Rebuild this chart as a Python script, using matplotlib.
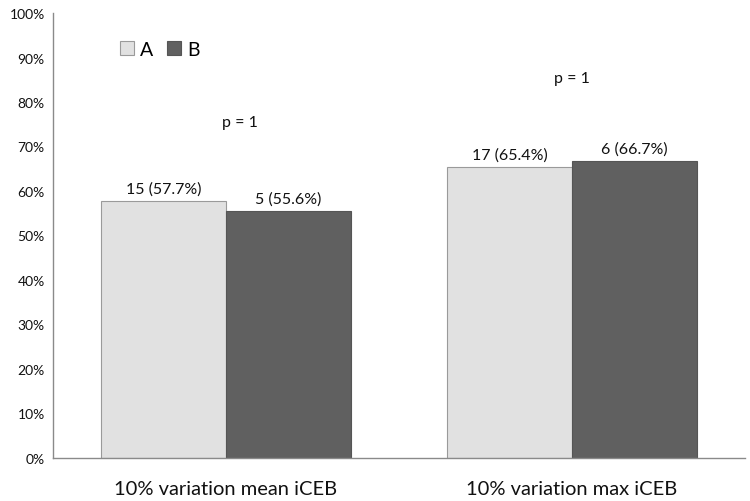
import matplotlib
matplotlib.use("Agg")
import matplotlib.pyplot as plt
import numpy as np

categories = ["10% variation mean iCEB", "10% variation max iCEB"]
series_names = ["A", "B"]
values_A = [57.7, 65.4]
values_B = [55.6, 66.7]
labels_A = ["15 (57.7%)", "17 (65.4%)"]
labels_B = ["5 (55.6%)", "6 (66.7%)"]
p_labels = ["p = 1", "p = 1"]
p_pos = [(0.04, 75.5), (1.0, 85.5)]
yticks = list(range(0, 101, 10))

plt.rcParams['font.family'] = ['Lato', 'DejaVu Sans']

fig = plt.figure(figsize=(7.5, 5.02), dpi=100)
ax = fig.add_axes([0.0707, 0.0857, 0.9226, 0.8864])

x = np.arange(len(categories))
w = 0.36
ca = "#e1e1e1"
cb = "#606060"
ax.bar(x - w/2, values_A, w, color=ca, edgecolor="#9a9a9a", linewidth=0.8, label=series_names[0])
ax.bar(x + w/2, values_B, w, color=cb, edgecolor="#555555", linewidth=0.8, label=series_names[1])

for xi, v, t in zip(x - w/2, values_A, labels_A):
    ax.text(xi, v + 1.2, t, ha="center", va="bottom", fontsize=11.5, color="#111111")
for xi, v, t in zip(x + w/2, values_B, labels_B):
    ax.text(xi, v + 1.2, t, ha="center", va="bottom", fontsize=11.5, color="#111111")
for (px, py), t in zip(p_pos, p_labels):
    ax.text(px, py, t, ha="center", va="center", fontsize=11.5, color="#111111")

ax.set_xlim(-0.5, 1.5)
ax.set_ylim(0, 100)
ax.set_yticks(yticks)
ax.set_yticklabels([f"{t}%" for t in yticks], fontsize=10, color="#111111")
ax.set_xticks(x)
ax.set_xticklabels(categories, fontsize=14.5, color="#111111")
ax.tick_params(axis="both", length=0)
ax.tick_params(axis="y", pad=6)
ax.tick_params(axis="x", pad=16)
for s in ["top", "right"]:
    ax.spines[s].set_visible(False)
ax.spines["left"].set_color("#8a8a8a")
ax.spines["bottom"].set_color("#8a8a8a")
ax.spines["left"].set_linewidth(1.0)
ax.spines["bottom"].set_linewidth(1.0)

ax.legend(loc="upper left", bbox_to_anchor=(0.085, 0.955), ncol=2, frameon=False,
          fontsize=14, handlelength=0.75, handleheight=0.75, handletextpad=0.3,
          columnspacing=0.7, borderaxespad=0)

fig.savefig("out.png", dpi=100)
